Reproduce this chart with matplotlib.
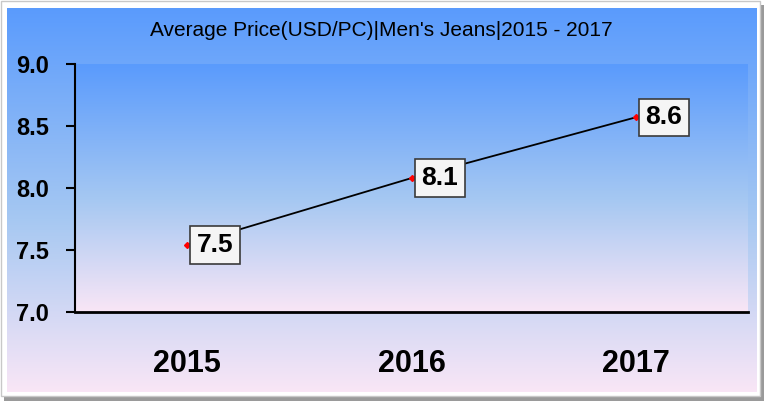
import numpy as np
import matplotlib
matplotlib.use('Agg')
import matplotlib.pyplot as plt
from matplotlib.colors import LinearSegmentedColormap
from matplotlib.patches import Rectangle

# data
years = ['2015', '2016', '2017']
avg_price = [7.54, 8.08, 8.57]
price_labels = ['7.5', '8.1', '8.6']
y_ticks = [7.0, 7.5, 8.0, 8.5, 9.0]
title = "Average Price(USD/PC)|Men's Jeans|2015 - 2017"

plt.rcParams['font.family'] = ['Liberation Sans', 'DejaVu Sans']

W, H = 768, 403
fig = plt.figure(figsize=(W / 100, H / 100), dpi=100)

# background: frame, shadow and chart-area gradient (pixel coords)
bg = fig.add_axes([0, 0, 1, 1])
bg.axis('off')
bg.add_patch(Rectangle((4, 5), 760, 396, fc='#9a9a9a', ec='none', zorder=0))
bg.add_patch(Rectangle((1, 1), 759, 395, fc='white', ec='#c8c8c8', lw=1, zorder=0.5))
cmap = LinearSegmentedColormap.from_list(
    'bg', [(0, '#5a9bfd'), (0.55, '#a6c8f2'), (1, '#f9e6f6')])
grad = np.linspace(0, 1, 256).reshape(-1, 1)
bg.imshow(grad, cmap=cmap, extent=(7, 757, 392, 8), aspect='auto', zorder=1)
bg.set_xlim(0, W)
bg.set_ylim(H, 0)

# plot area
left, right, top, bottom = 75, 748, 64, 312
ax = fig.add_axes([left / W, 1 - bottom / H, (right - left) / W, (bottom - top) / H])
ax.patch.set_alpha(0)
ax.imshow(grad, cmap=cmap, extent=(0, 1, 0, 1), transform=ax.transAxes,
          aspect='auto', zorder=0)

x = np.arange(len(years))
ax.plot(x, avg_price, color='black', lw=1.3, marker='D', ms=3,
        mfc='red', mec='red', zorder=3)
for xi, v, t in zip(x, avg_price, price_labels):
    ax.annotate(t, (xi, v), xytext=(7, 0), textcoords='offset points',
                ha='left', va='center', fontsize=19, fontweight='bold',
                bbox=dict(boxstyle='square,pad=0.25', fc='#f5f5f5',
                          ec='#3a3a3a', lw=1.2), zorder=5)

ax.set_xlim(-0.5, len(years) - 0.5)
ax.set_ylim(7.0, 9.0)
ax.set_xticks(x)
ax.set_xticklabels(years, fontsize=22, fontweight='bold')
ax.set_yticks(y_ticks)
ax.set_yticklabels([f'{v:.1f}' for v in y_ticks], fontsize=17, fontweight='bold')
ax.tick_params(axis='x', length=0, pad=27)
ax.tick_params(axis='y', direction='out', length=6.5, width=1.5, pad=12)
for s in ['top', 'right']:
    ax.spines[s].set_visible(False)
ax.spines['left'].set_linewidth(1.5)
ax.spines['bottom'].set_linewidth(2)

fig.text(381 / W, 1 - 30 / H, title, ha='center', va='center',
         fontsize=15, color='black')

fig.savefig('out.png', dpi=100)
